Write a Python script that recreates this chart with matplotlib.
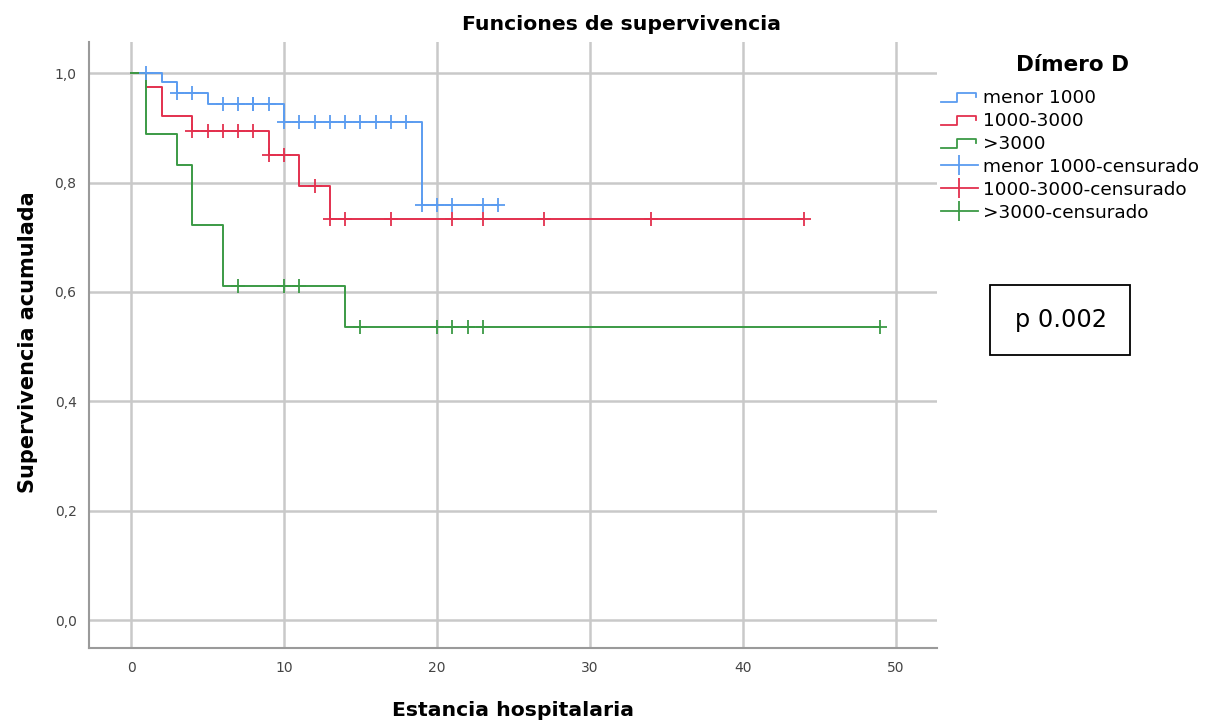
import numpy as np
import matplotlib
matplotlib.use("Agg")
import matplotlib.pyplot as plt
from matplotlib.lines import Line2D
from matplotlib.patches import Rectangle
from matplotlib.legend_handler import HandlerBase

# Kaplan-Meier steps per group (time of drop, survival after drop)
groups = ["menor 1000", "1000-3000", ">3000"]

blue_times = [0, 2, 3, 5, 10, 19]
blue_surv = [1.0, 0.983, 0.963, 0.943, 0.911, 0.759]
blue_end = 24
blue_cens = [1, 3, 4, 6, 7, 8, 8, 9, 10, 11, 12, 13, 14, 15, 16, 17, 18, 19, 20, 21, 23, 24]

red_times = [0, 1, 2, 4, 9, 11, 13]
red_surv = [1.0, 0.974, 0.921, 0.895, 0.850, 0.793, 0.733]
red_end = 44
red_cens = [4, 5, 6, 7, 8, 9, 10, 12, 13, 14, 17, 21, 23, 27, 34, 44]

green_times = [0, 1, 3, 4, 6, 14]
green_surv = [1.0, 0.889, 0.833, 0.722, 0.611, 0.535]
green_end = 49
green_cens = [7, 10, 11, 15, 20, 21, 22, 23, 49]

x_ticks = [0, 10, 20, 30, 40, 50]
y_ticks = [0.0, 0.2, 0.4, 0.6, 0.8, 1.0]
y_ticklabels = ["0,0", "0,2", "0,4", "0,6", "0,8", "1,0"]

colors = ["#5b9cf0", "#e3304e", "#3b9a45"]
series = [
    (blue_times, blue_surv, blue_end, blue_cens),
    (red_times, red_surv, red_end, red_cens),
    (green_times, green_surv, green_end, green_cens),
]


class StepHandler(HandlerBase):
    def create_artists(self, legend, orig_handle, xdescent, ydescent,
                       width, height, fontsize, trans):
        w = width * 0.95
        lo = -ydescent + height * 0.05
        hi = -ydescent + height * 0.8
        xs = [-xdescent, -xdescent + w * 0.45, -xdescent + w * 0.45,
              -xdescent + w, -xdescent + w]
        ys = [lo, lo, hi, hi, hi - height * 0.35]
        ln = Line2D(xs, ys, color=orig_handle.get_color(), lw=1.3,
                    transform=trans)
        return [ln]


fig = plt.figure(figsize=(12.06, 7.22), dpi=100)
ax = fig.add_axes([89 / 1206, 1 - 648 / 722, (937 - 89) / 1206, (648 - 42) / 722])

step_handles = []
cens_handles = []
for (t, s, end, cens), c, name in zip(series, colors, groups):
    xs = list(t) + [end]
    ys = list(s) + [s[-1]]
    ln, = ax.step(xs, ys, where="post", color=c, lw=1.4, zorder=3)
    idx = np.searchsorted(t, cens, side="right") - 1
    cy = np.array(s)[idx]
    ax.plot(cens, cy, linestyle="none", marker="+", markersize=10,
            markeredgewidth=1.3, color=c, zorder=4)
    step_handles.append(ln)
    cens_handles.append(Line2D([], [], color=c, lw=1.3, marker="|",
                               markersize=14, markeredgewidth=1.3))

ax.set_xlim(-2.75, 52.7)
ax.set_ylim(-0.051, 1.057)
ax.set_xticks(x_ticks)
ax.set_yticks(y_ticks)
ax.set_yticklabels(y_ticklabels)
ax.grid(True, color="#c9c9c9", lw=1.8)
ax.set_axisbelow(True)
for side in ["top", "right"]:
    ax.spines[side].set_visible(False)
for side in ["left", "bottom"]:
    ax.spines[side].set_color("#9a9a9a")
    ax.spines[side].set_linewidth(1.5)
ax.tick_params(length=0, labelsize=10, labelcolor="#444444", pad=9)

fig.text(621 / 1206, 1 - 25 / 722, "Funciones de supervivencia",
         ha="center", va="center", fontsize=14.7, fontweight="bold")
fig.text(513 / 1206, 1 - 710 / 722, "Estancia hospitalaria",
         ha="center", va="center", fontsize=14.7, fontweight="bold")
fig.text(28 / 1206, 1 - 342 / 722, "Supervivencia acumulada",
         ha="center", va="center", rotation=90, fontsize=15, fontweight="bold")

fig.text(1073 / 1206, 1 - 65 / 722, "Dímero D", ha="center", va="center",
         fontsize=15.5, fontweight="bold")
leg = fig.legend(step_handles + cens_handles,
                 groups + [g + "-censurado" for g in groups],
                 handler_map={h: StepHandler() for h in step_handles},
                 loc="upper left", bbox_to_anchor=(941 / 1206, 1 - 89 / 722),
                 frameon=False, fontsize=13.3,
                 handlelength=2.0, handletextpad=0.25, labelspacing=0.27,
                 borderaxespad=0, borderpad=0)

fig.add_artist(Rectangle((990 / 1206, 1 - 355 / 722), 140 / 1206, 70 / 722,
                         transform=fig.transFigure, fill=False,
                         edgecolor="black", lw=1.3))
fig.text(1061 / 1206, 1 - 320 / 722, "p 0.002", ha="center", va="center",
         fontsize=17.3)

fig.savefig("out.png", dpi=100)
